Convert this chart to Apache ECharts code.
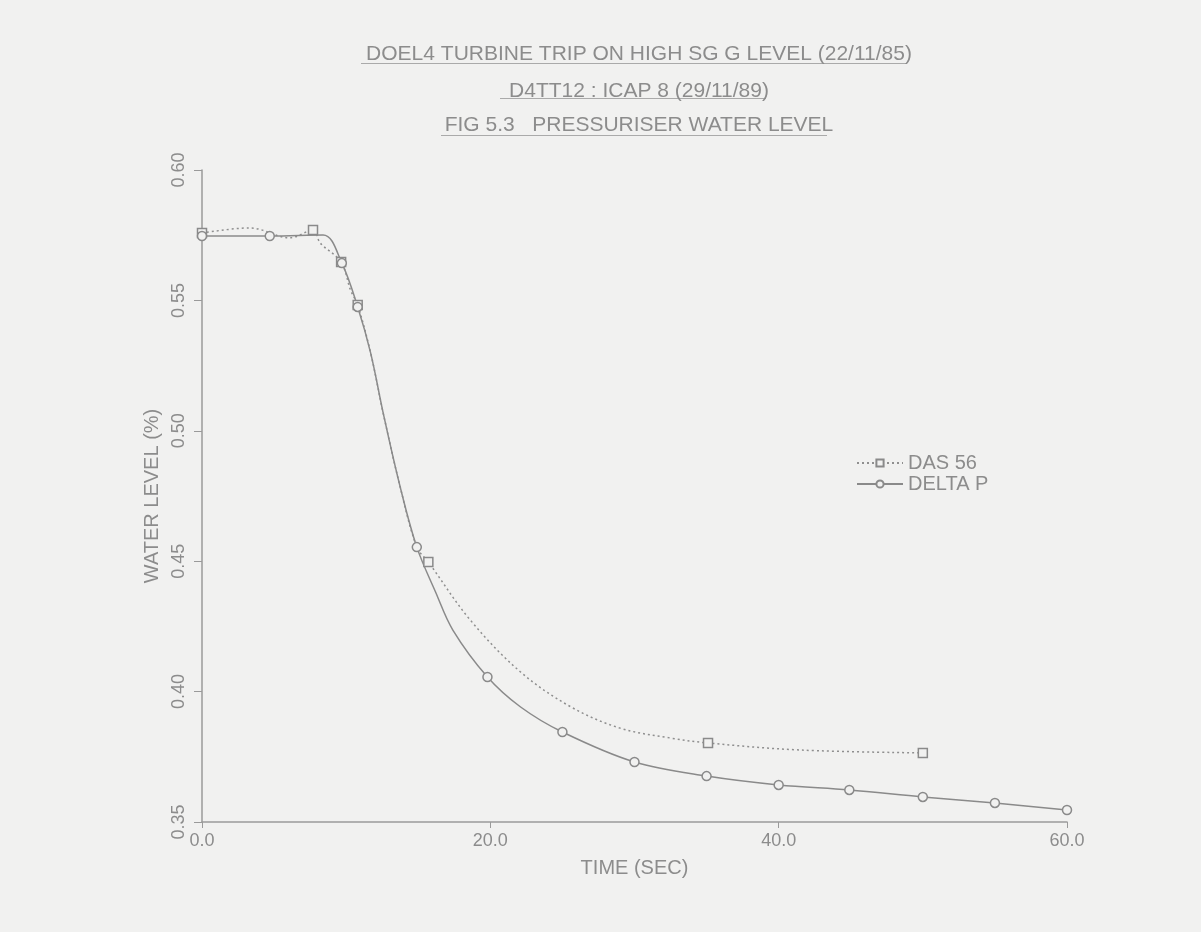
<!DOCTYPE html>
<html lang="en">
<head>
  <meta charset="UTF-8">
  <script src="https://cdn.jsdelivr.net/npm/echarts@6/dist/echarts.min.js"></script>
  <title>Pressuriser water level</title>
</head>
<body>
  <div id="chart"></div>
</body>
<style>
  html,body{
    padding: 0;
    margin: 0;
    height: 100vh;
    width: 100vw;
    background: #f1f1f0;
  }
  #chart {
    width: 1201px;
    height: 932px;
  }
</style>
</html>
<script>
// titles
const titleLines = [
  'DOEL4 TURBINE TRIP ON HIGH SG G LEVEL (22/11/85)',
  'D4TT12 : ICAP 8 (29/11/89)',
  'FIG 5.3   PRESSURISER WATER LEVEL'
]

// DAS 56 (dotted, squares)
const dasTime  = [0.0, 3.3, 6.1, 7.7, 8.2, 9.65, 10.3, 10.8, 11.7, 12.6, 13.75, 14.9, 15.7, 18.6, 22.1, 25.6, 29.0, 32.5, 35.1, 41.5, 50.0]
const dasLevel = [0.5758, 0.5778, 0.574, 0.577, 0.572, 0.5647, 0.554, 0.5482, 0.5298, 0.506, 0.4784, 0.4554, 0.4497, 0.4275, 0.4075, 0.3941, 0.386, 0.3822, 0.3803, 0.3776, 0.3765]
const dasMarks = [0, 3, 5, 7, 12, 18, 20]

// DELTA P (solid, circles)
const dpTime  = [0.0, 4.7, 8.4, 9.7, 10.8, 11.7, 12.6, 13.75, 14.9, 16.2, 17.4, 19.8, 22.1, 25.0, 30.0, 35.0, 40.0, 44.9, 50.0, 55.0, 60.0]
const dpLevel = [0.5747, 0.5747, 0.5751, 0.5643, 0.5475, 0.5298, 0.506, 0.4784, 0.4554, 0.4382, 0.4236, 0.4056, 0.3941, 0.3845, 0.373, 0.3676, 0.3642, 0.3623, 0.3596, 0.3573, 0.3546]
const dpMarks = [0, 1, 3, 4, 8, 11, 13, 14, 15, 16, 17, 18, 19, 20]

const xTicks = { min: 0, max: 60, interval: 20 }
const yTicks = { min: 0.35, max: 0.60, interval: 0.05 }

const ink = '#8c8c8c'
const font = 'Liberation Sans'

// title placement (reference is centred a bit right of the page middle)
const titleTop = [39, 76, 110]
const underline = [
  { x: 361, y: 63, w: 546 },
  { x: 500, y: 98, w: 266 },
  { x: 441, y: 135, w: 386 }
]

function build(t, v, marks) {
  return t.map((x, i) => {
    const item = { value: [x, v[i]] }
    if (!marks.includes(i)) item.symbol = 'none'
    return item
  })
}

const option = {
  backgroundColor: '#f1f1f0',
  animation: false,
  title: titleLines.map((txt, i) => ({
    text: txt,
    left: 634,
    textAlign: 'center',
    top: titleTop[i],
    textStyle: { color: ink, fontSize: 21, fontWeight: 'normal', fontFamily: font }
  })),
  graphic: underline.map(u => ({
    type: 'rect',
    left: u.x,
    top: u.y,
    shape: { width: u.w, height: 1 },
    style: { fill: '#aaa' }
  })),
  legend: {
    orient: 'vertical',
    left: 851,
    top: 448,
    itemWidth: 46,
    itemHeight: 9,
    itemGap: 1,
    textStyle: { color: ink, fontSize: 20, fontFamily: font },
    data: ['DAS 56', 'DELTA P']
  },
  grid: { left: 202, right: 134, top: 170, bottom: 110 },
  xAxis: {
    type: 'value',
    min: xTicks.min,
    max: xTicks.max,
    interval: xTicks.interval,
    name: 'TIME (SEC)',
    nameLocation: 'middle',
    nameGap: 36,
    nameTextStyle: { color: ink, fontSize: 20, fontFamily: font },
    axisLine: { lineStyle: { color: '#9a9a9a', width: 1.5 } },
    axisTick: { inside: false, length: 6, lineStyle: { color: '#9a9a9a' } },
    axisLabel: {
      color: ink, fontSize: 18, fontFamily: font, margin: 10,
      formatter: v => v.toFixed(1)
    },
    splitLine: { show: false }
  },
  yAxis: {
    type: 'value',
    min: yTicks.min,
    max: yTicks.max,
    interval: yTicks.interval,
    name: 'WATER LEVEL (%)',
    nameLocation: 'middle',
    nameRotate: 90,
    nameGap: 36,
    nameTextStyle: { color: ink, fontSize: 20, fontFamily: font },
    axisLine: { show: true, lineStyle: { color: '#9a9a9a', width: 1.5 } },
    axisTick: { show: true, length: 8, lineStyle: { color: '#9a9a9a' } },
    axisLabel: {
      color: ink, fontSize: 18, fontFamily: font, rotate: 90, margin: 14,
      formatter: v => v.toFixed(2)
    },
    splitLine: { show: false }
  },
  series: [
    {
      name: 'DAS 56',
      type: 'line',
      smooth: 0.35,
      symbol: 'rect',
      symbolSize: 9,
      data: build(dasTime, dasLevel, dasMarks),
      lineStyle: { color: '#8f8f8f', width: 1.5, type: [2, 3] },
      itemStyle: { color: '#f1f1f0', borderColor: '#8a8a8a', borderWidth: 1.5 }
    },
    {
      name: 'DELTA P',
      type: 'line',
      smooth: 0.35,
      symbol: 'circle',
      symbolSize: 9,
      data: build(dpTime, dpLevel, dpMarks),
      lineStyle: { color: '#8a8a8a', width: 1.5 },
      itemStyle: { color: '#f1f1f0', borderColor: '#8a8a8a', borderWidth: 1.5 }
    }
  ]
};

const chartDom = document.getElementById('chart');
const myChart = echarts.init(chartDom);
option && myChart.setOption(option);
</script>
